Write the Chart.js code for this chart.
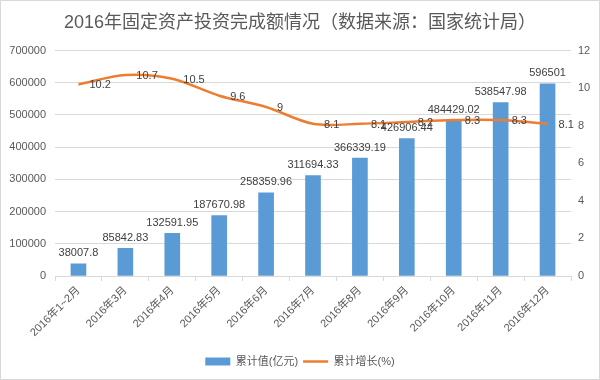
<!DOCTYPE html>
<html>
<head>
<meta charset="utf-8">
<script src="https://cdn.jsdelivr.net/npm/chart.js@4/dist/chart.umd.min.js"></script>
<style>
  html, body { margin: 0; padding: 0; background: #fff; }
  #wrap { width: 598px; height: 378px; border: 1px solid #d9d9d9; position: relative; }
</style>
</head>
<body>
<div id="wrap"><canvas id="chart" width="598" height="378"></canvas></div>
<script>
// ---- dados ----
const months = ['2016年1~2月', '2016年3月', '2016年4月', '2016年5月', '2016年6月', '2016年7月',
                '2016年8月', '2016年9月', '2016年10月', '2016年11月', '2016年12月'];
const totals = [38007.8, 85842.83, 132591.95, 187670.98, 258359.96, 311694.33,
                366339.19, 426906.44, 484429.02, 538547.98, 596501];
const growth = [10.2, 10.7, 10.5, 9.6, 9, 8.1, 8.1, 8.2, 8.3, 8.3, 8.1];

const FONT = '"Liberation Sans", "Noto Sans CJK SC", sans-serif';
const GRAY = '#595959';

// rótulos de dados (estilo Excel)
const labelPlugin = {
    id: 'valueLabels',
    afterDatasetsDraw(chart) {
        const ctx = chart.ctx;
        ctx.save();
        ctx.font = '11px ' + FONT;
        ctx.fillStyle = '#404040';

        const barMeta = chart.getDatasetMeta(0);
        ctx.textAlign = 'center';
        ctx.textBaseline = 'bottom';
        barMeta.data.forEach((bar, i) => {
            ctx.fillText(String(totals[i]), bar.x, bar.y - 5);
        });

        const lineMeta = chart.getDatasetMeta(1);
        ctx.textAlign = 'left';
        ctx.textBaseline = 'middle';
        lineMeta.data.forEach((pt, i) => {
            ctx.fillText(String(growth[i]), pt.x + 11, pt.y + 1);
        });
        ctx.restore();
    }
};

new Chart(document.getElementById('chart'), {
    type: 'bar',
    data: {
        labels: months,
        datasets: [
            {
                label: '累计值(亿元)',
                data: totals,
                backgroundColor: '#5B9BD5',
                yAxisID: 'y',
                barThickness: 15,
                order: 1,
                pointStyle: 'rect'
            },
            {
                type: 'line',
                label: '累计增长(%)',
                data: growth,
                borderColor: '#ED7D31',
                backgroundColor: '#ED7D31',
                borderWidth: 2.5,
                pointRadius: 0,
                tension: 0.3,
                yAxisID: 'y1',
                order: 0,
                pointStyle: 'line'
            }
        ]
    },
    options: {
        responsive: false,
        animation: false,
        layout: { padding: { left: 0, right: 0, top: 0, bottom: 2 } },
        plugins: {
            title: {
                display: true,
                text: '2016年固定资产投资完成额情况（数据来源：国家统计局）',
                color: GRAY,
                font: { family: FONT, size: 18, weight: 'normal' },
                padding: { top: 11, bottom: 17 }
            },
            legend: {
                position: 'bottom',
                labels: {
                    usePointStyle: true,
                    pointStyleWidth: 25,
                    boxHeight: 8,
                    color: GRAY,
                    font: { family: FONT, size: 11 },
                    padding: 5,
                    sort: (a, b) => a.datasetIndex - b.datasetIndex
                }
            },
            tooltip: { enabled: false }
        },
        scales: {
            x: {
                grid: { display: true, drawOnChartArea: false, color: '#d9d9d9', tickLength: 5 },
                border: { color: '#d9d9d9' },
                ticks: {
                    color: GRAY,
                    font: { family: FONT, size: 11 },
                    maxRotation: 45,
                    minRotation: 45,
                    autoSkip: false
                },
                afterFit(scale) { scale.height = 75; }
            },
            y: {
                position: 'left',
                min: 0,
                max: 700000,
                grid: { color: '#d9d9d9', drawTicks: false },
                border: { display: false },
                ticks: {
                    stepSize: 100000,
                    color: GRAY,
                    padding: 9,
                    font: { family: FONT, size: 11 },
                    callback: v => String(v)
                },
                afterFit(scale) { scale.width = 54; }
            },
            y1: {
                position: 'right',
                min: 0,
                max: 12,
                grid: { drawOnChartArea: false, drawTicks: false },
                border: { display: false },
                ticks: {
                    stepSize: 2,
                    color: GRAY,
                    padding: 7,
                    font: { family: FONT, size: 11 }
                },
                afterFit(scale) { scale.width = 28; }
            }
        }
    },
    plugins: [labelPlugin]
});
</script>
</body>
</html>
